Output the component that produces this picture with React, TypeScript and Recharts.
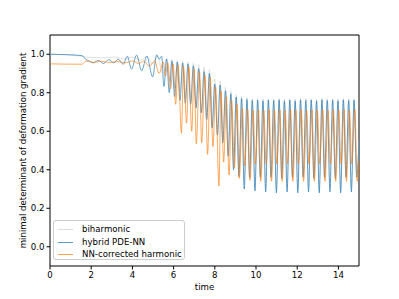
import React from 'react';
import {
  LineChart, Line, XAxis, YAxis, ReferenceArea
} from 'recharts';

const FONT = '"DejaVu Sans", sans-serif';

// time stamps / values at peaks and troughs
const biharmonicT = [
  0, 1.55, 1.75, 2.5, 3.2, 3.6, 4.0, 4.4, 4.7, 5.0, 5.2, 5.5, 5.66, 5.79, 5.92, 6.05, 6.18, 6.31,
  6.44, 6.57, 6.7, 6.83, 6.96, 7.09, 7.22, 7.35, 7.48, 7.61, 7.74, 7.87, 8.0, 8.13, 8.26, 8.39,
  8.52, 8.65, 8.78, 8.91, 9.04, 9.17, 9.3, 9.43, 9.56, 9.69, 9.82, 9.95, 10.08, 10.21, 10.34,
  10.47, 10.6, 10.73, 10.86, 10.99, 11.12, 11.25, 11.38, 11.51, 11.64, 11.77, 11.9, 12.03,
  12.16, 12.29, 12.42, 12.55, 12.68, 12.81, 12.94, 13.07, 13.2, 13.33, 13.46, 13.59, 13.72,
  13.85, 13.98, 14.11, 14.24, 14.37, 14.5, 14.63, 14.76, 14.89, 15.0,
];
const biharmonicV = [
  1.0, 0.99, 0.985, 0.982, 0.985, 0.975, 0.985, 0.97, 0.99, 0.95, 0.99, 0.9, 0.98, 0.86, 0.975,
  0.82, 0.97, 0.8, 0.965, 0.77, 0.96, 0.75, 0.955, 0.73, 0.945, 0.7, 0.935, 0.67, 0.92, 0.63,
  0.87, 0.59, 0.86, 0.55, 0.83, 0.49, 0.81, 0.43, 0.79, 0.38, 0.78, 0.33, 0.775, 0.37, 0.77,
  0.31, 0.77, 0.37, 0.768, 0.31, 0.77, 0.37, 0.77, 0.3, 0.772, 0.37, 0.768, 0.31, 0.77, 0.37,
  0.768, 0.3, 0.772, 0.37, 0.77, 0.31, 0.77, 0.37, 0.768, 0.3, 0.772, 0.37, 0.77, 0.31, 0.77,
  0.37, 0.768, 0.3, 0.772, 0.37, 0.77, 0.31, 0.77, 0.37, 0.55,
];

const hybridT = [
  0, 0.8, 1.55, 1.72, 1.9, 2.1, 2.35, 2.6, 2.85, 3.1, 3.3, 3.56, 3.75, 3.96, 4.2, 4.45, 4.7,
  4.98, 5.18, 5.3, 5.42, 5.53, 5.66, 5.79, 5.92, 6.05, 6.18, 6.31, 6.44, 6.57, 6.7, 6.83, 6.96,
  7.09, 7.22, 7.35, 7.48, 7.61, 7.74, 7.87, 8.0, 8.13, 8.26, 8.39, 8.52, 8.65, 8.78, 8.91, 9.04,
  9.17, 9.3, 9.43, 9.56, 9.69, 9.82, 9.95, 10.08, 10.21, 10.34, 10.47, 10.6, 10.73, 10.86,
  10.99, 11.12, 11.25, 11.38, 11.51, 11.64, 11.77, 11.9, 12.03, 12.16, 12.29, 12.42, 12.55,
  12.68, 12.81, 12.94, 13.07, 13.2, 13.33, 13.46, 13.59, 13.72, 13.85, 13.98, 14.11, 14.24,
  14.37, 14.5, 14.63, 14.76, 14.89, 15.0,
];
const hybridV = [
  1.0, 0.998, 0.993, 0.975, 0.965, 0.955, 0.968, 0.952, 0.972, 0.955, 0.975, 0.948, 0.99, 0.922,
  0.996, 0.915, 0.99, 0.883, 0.997, 0.975, 0.99, 0.833, 0.975, 0.8, 0.965, 0.78, 0.96, 0.76,
  0.955, 0.745, 0.95, 0.74, 0.94, 0.72, 0.925, 0.695, 0.91, 0.66, 0.9, 0.617, 0.845, 0.58, 0.84,
  0.54, 0.81, 0.47, 0.795, 0.4, 0.778, 0.365, 0.77, 0.3, 0.765, 0.36, 0.76, 0.29, 0.762, 0.36,
  0.758, 0.285, 0.762, 0.36, 0.76, 0.28, 0.763, 0.355, 0.758, 0.285, 0.762, 0.36, 0.758, 0.28,
  0.763, 0.36, 0.76, 0.285, 0.762, 0.355, 0.758, 0.28, 0.763, 0.36, 0.76, 0.285, 0.762, 0.355,
  0.758, 0.28, 0.763, 0.36, 0.76, 0.285, 0.762, 0.36, 0.55,
];

const correctedT = [
  0, 1.55, 1.75, 2.1, 2.5, 2.9, 3.3, 3.7, 4.0, 4.3, 4.55, 4.82, 5.08, 5.3, 5.5, 5.6, 5.72, 5.85,
  5.98, 6.1, 6.22, 6.38, 6.48, 6.63, 6.74, 6.88, 7.0, 7.1, 7.26, 7.36, 7.52, 7.65, 7.78, 7.91,
  8.04, 8.2, 8.3, 8.43, 8.56, 8.69, 8.82, 8.95, 9.08, 9.19, 9.34, 9.45, 9.6, 9.71, 9.86, 9.97,
  10.12, 10.23, 10.38, 10.49, 10.64, 10.75, 10.9, 11.01, 11.16, 11.27, 11.42, 11.53, 11.68,
  11.79, 11.94, 12.05, 12.2, 12.31, 12.46, 12.57, 12.72, 12.83, 12.98, 13.09, 13.24, 13.35,
  13.5, 13.61, 13.76, 13.87, 14.02, 14.13, 14.28, 14.39, 14.54, 14.65, 14.8, 14.91, 15.0,
];
const correctedV = [
  0.95, 0.948, 0.965, 0.958, 0.963, 0.957, 0.962, 0.956, 0.965, 0.952, 0.965, 0.938, 0.965, 0.9,
  0.96, 0.885, 0.955, 0.82, 0.95, 0.74, 0.945, 0.59, 0.94, 0.643, 0.935, 0.6, 0.925, 0.535, 0.91,
  0.54, 0.89, 0.48, 0.88, 0.52, 0.83, 0.316, 0.81, 0.44, 0.78, 0.373, 0.76, 0.41, 0.74, 0.355,
  0.72, 0.42, 0.715, 0.345, 0.71, 0.43, 0.712, 0.34, 0.708, 0.43, 0.712, 0.34, 0.71, 0.43, 0.712,
  0.34, 0.708, 0.43, 0.712, 0.34, 0.71, 0.43, 0.712, 0.34, 0.708, 0.43, 0.712, 0.34, 0.71, 0.43,
  0.712, 0.34, 0.708, 0.43, 0.712, 0.34, 0.71, 0.43, 0.712, 0.34, 0.708, 0.43, 0.712, 0.34, 0.45,
];

const xTicks = [0, 2, 4, 6, 8, 10, 12, 14];
const yTicks = [0, 0.2, 0.4, 0.6, 0.8, 1.0];

const SERIES = [
  { name: 'biharmonic', t: biharmonicT, v: biharmonicV, color: '#dcdcdc', opacity: 1 },
  { name: 'hybrid PDE-NN', t: hybridT, v: hybridV, color: '#1f77b4', opacity: 0.75 },
  { name: 'NN-corrected harmonic', t: correctedT, v: correctedV, color: '#ff7f0e', opacity: 0.75 },
];

const tickStyle = { fontSize: 8.6, fill: '#000', fontFamily: FONT };

export default function App() {
  return (
    <div style={{ position: 'absolute', left: 0, top: 0, width: 399, height: 299, background: '#fff' }}>
      <LineChart width={399} height={299} margin={{ top: 35, right: 40, bottom: 0, left: 0 }}>
        <XAxis
          dataKey="t"
          type="number"
          domain={[0, 15]}
          ticks={xTicks}
          allowDataOverflow
          height={33}
          tickSize={3.5}
          tickMargin={2}
          tick={tickStyle}
          axisLine={false}
          tickLine={{ stroke: '#000' }}
          label={{ value: 'time', position: 'insideBottom', offset: 9, style: tickStyle }}
        />
        <YAxis
          type="number"
          domain={[-0.1, 1.1]}
          ticks={yTicks}
          allowDataOverflow
          width={50}
          tickSize={3.5}
          tickMargin={2}
          tick={tickStyle}
          axisLine={false}
          tickLine={{ stroke: '#000' }}
          tickFormatter={(v: number) => v.toFixed(1)}
          label={{
            value: 'minimal determinant of deformation gradient',
            angle: -90,
            position: 'center',
            dx: -2,
            style: tickStyle,
          }}
        />
        {SERIES.map(s => (
          <Line
            key={s.name}
            data={s.t.map((t, i) => ({ t, v: s.v[i] }))}
            dataKey="v"
            name={s.name}
            type="monotone"
            stroke={s.color}
            strokeOpacity={s.opacity}
            strokeWidth={0.9}
            dot={false}
            isAnimationActive={false}
          />
        ))}
        <ReferenceArea
          x1={0}
          x2={15}
          y1={-0.1}
          y2={1.1}
          fill="none"
          stroke="#000"
          strokeWidth={1}
          ifOverflow="visible"
        />
      </LineChart>
      <div
        style={{
          position: 'absolute', left: 53, top: 220, width: 132, height: 40,
          border: '1px solid #cccccc', borderRadius: 3, background: 'rgba(255,255,255,0.8)',
          fontFamily: FONT, fontSize: 8.6, color: '#000', boxSizing: 'border-box',
        }}
      >
        {SERIES.map((s, i) => (
          <div key={s.name} style={{ position: 'absolute', left: 0, top: 2 + i * 12.5, height: 12, width: '100%' }}>
            <div style={{
              position: 'absolute', left: 4, top: 6, width: 15, height: 1,
              background: s.color, opacity: s.opacity,
            }} />
            <span style={{ position: 'absolute', left: 28, top: 0, lineHeight: '12px', whiteSpace: 'nowrap' }}>
              {s.name}
            </span>
          </div>
        ))}
      </div>
    </div>
  );
}
